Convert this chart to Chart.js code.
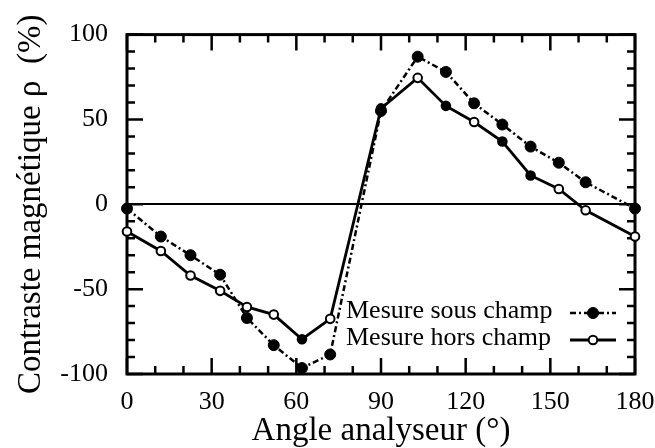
<!DOCTYPE html>
<html>
<head>
<meta charset="utf-8">
<script src="https://cdn.jsdelivr.net/npm/chart.js@4.4.1/dist/chart.umd.min.js"></script>
<style>
  html, body { margin: 0; padding: 0; background: #fff; }
  #wrap { width: 655px; height: 448px; }
</style>
</head>
<body>
<div id="wrap"><canvas id="graphe"></canvas></div>
<script>
(() => {
  'use strict'

  // angle de l'analyseur (degrés)
  const angles = [0, 12, 22.5, 33, 42.5, 52, 62, 72, 90, 103, 113, 123, 133, 143, 153, 162.5, 180]

  // contraste magnétique (%)
  const sousChamp = [-2.5, -19, -30, -41.5, -67, -83, -96.5, -88.5, 55, 87, 78, 59.5, 47, 34, 24.5, 13, -2.5]
  const horsChamp = [-16, -27.5, -42, -51, -60.5, -65, -79.5, -67.5, 56.5, 74.5, 58, 48.5, 37, 17, 9, -3.5, -19]

  const xTicks = [0, 30, 60, 90, 120, 150, 180]
  const yTicks = [-100, -50, 0, 50, 100]

  const serif = '"Liberation Serif", "DejaVu Serif", serif'

  const points = valeurs => angles.map((a, i) => ({ x: a, y: valeurs[i] }))

  // certains marqueurs "hors champ" sont pleins sur le tracé
  const pleins = [6, 8, 10, 12, 13]
  const fondHors = angles.map((a, i) => pleins.includes(i) ? '#000' : '#fff')

  // graduations internes sur les quatre côtés + cadre
  const cadre = {
    id: 'cadre',
    beforeDatasetsDraw(chart) {
      const { ctx, chartArea: { left, right, top, bottom }, scales: { x, y } } = chart
      ctx.save()
      ctx.strokeStyle = '#000'
      ctx.lineWidth = 2.5
      ctx.beginPath()
      for (let v = x.min; v <= x.max; v += 10) {
        const px = x.getPixelForValue(v)
        const len = v % 30 === 0 ? 16 : 8
        ctx.moveTo(px, bottom); ctx.lineTo(px, bottom - len)
        ctx.moveTo(px, top); ctx.lineTo(px, top + len)
      }
      for (let v = y.min; v <= y.max; v += 10) {
        const py = y.getPixelForValue(v)
        const len = v % 50 === 0 ? 16 : 8
        ctx.moveTo(left, py); ctx.lineTo(left + len, py)
        ctx.moveTo(right, py); ctx.lineTo(right - len, py)
      }
      ctx.stroke()
      ctx.lineWidth = 3
      ctx.strokeRect(left, top, right - left, bottom - top)
      ctx.restore()
    }
  }

  // légende dans le coin bas droit
  const legende = {
    id: 'legende',
    afterDatasetsDraw(chart) {
      const { ctx, chartArea } = chart
      const xTexte = chartArea.left + 219
      const xLigne = chartArea.right - 65
      ctx.save()
      ctx.font = '26px ' + serif
      ctx.textBaseline = 'middle'
      chart.data.datasets.forEach((ds, i) => {
        const yTexte = chartArea.bottom - 63 + i * 27
        const yLigne = yTexte + 2
        ctx.fillStyle = '#000'
        ctx.fillText(ds.label, xTexte, yTexte)
        ctx.strokeStyle = '#000'
        ctx.lineWidth = ds.borderWidth
        ctx.setLineDash(ds.borderDash || [])
        ctx.beginPath()
        ctx.moveTo(xLigne, yLigne)
        ctx.lineTo(xLigne + 46, yLigne)
        ctx.stroke()
        ctx.setLineDash([])
        ctx.beginPath()
        ctx.arc(xLigne + 23, yLigne, ds.pointRadius, 0, Math.PI * 2)
        ctx.fillStyle = i === 0 ? '#000' : '#fff'
        ctx.fill()
        ctx.lineWidth = ds.pointBorderWidth
        ctx.stroke()
      })
      ctx.restore()
    }
  }

  new Chart(document.getElementById('graphe'), {
    type: 'scatter',
    data: {
      datasets: [
        {
          label: 'Mesure sous champ',
          data: points(sousChamp),
          showLine: true,
          borderColor: '#000',
          borderWidth: 2.5,
          borderDash: [6, 3, 2, 3],
          pointRadius: 5.5,
          pointBorderWidth: 1,
          pointBackgroundColor: '#000',
          pointBorderColor: '#000',
          clip: false
        },
        {
          label: 'Mesure hors champ',
          data: points(horsChamp),
          showLine: true,
          borderColor: '#000',
          borderWidth: 2.8,
          pointRadius: 4.3,
          pointBorderWidth: 2,
          pointBackgroundColor: fondHors,
          pointBorderColor: '#000',
          clip: false
        }
      ]
    },
    options: {
      responsive: true,
      maintainAspectRatio: false,
      animation: false,
      layout: { padding: { top: 23, right: 20, left: 0, bottom: 0 } },
      plugins: {
        legend: { display: false },
        tooltip: { enabled: false }
      },
      scales: {
        x: {
          type: 'linear',
          min: 0,
          max: 180,
          afterBuildTicks: s => { s.ticks = xTicks.map(v => ({ value: v })) },
          afterFit: s => { s.height = 74; s.paddingLeft = 0; s.paddingRight = 0 },
          grid: { display: false, drawTicks: false },
          border: { display: false },
          ticks: {
            padding: 13,
            color: '#000',
            maxRotation: 0,
            font: { family: serif, size: 26 }
          },
          title: {
            display: true,
            text: 'Angle analyseur (°)',
            color: '#000',
            font: { family: serif, size: 33, lineHeight: 1 },
            padding: { top: 0, bottom: 0 }
          }
        },
        y: {
          type: 'linear',
          min: -100,
          max: 100,
          afterBuildTicks: s => { s.ticks = yTicks.map(v => ({ value: v })) },
          afterFit: s => { s.width = 127 },
          grid: {
            drawTicks: false,
            lineWidth: 2,
            color: c => c.tick && c.tick.value === 0 ? '#000' : 'rgba(0,0,0,0)'
          },
          border: { display: false },
          ticks: {
            padding: 19,
            color: '#000',
            font: { family: serif, size: 26 }
          },
          title: {
            display: true,
            text: 'Contraste magnétique ρ  (%)',
            color: '#000',
            font: { family: serif, size: 33, lineHeight: 1 },
            padding: { top: 15, bottom: 0 }
          }
        }
      }
    },
    plugins: [cadre, legende]
  })
})()
</script>
</body>
</html>
